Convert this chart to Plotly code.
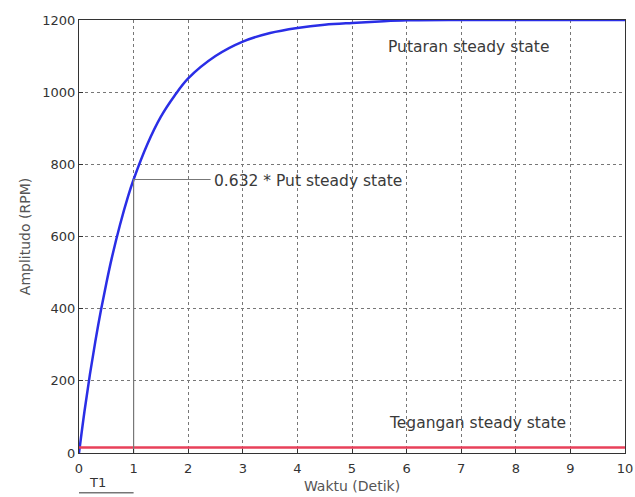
import plotly.graph_objects as go

# Data
t = [0, 0.1, 0.2, 0.3, 0.4, 0.5, 0.6, 0.75, 0.9, 1.0, 1.25, 1.5, 1.75, 2.0, 2.5, 3.0, 3.5, 4.0, 4.5, 5.0, 5.5, 6.0, 7.0, 8.0, 9.0, 10.0]
putaran = [0, 115, 218, 310, 394, 470, 540, 632, 712, 758, 855, 932, 990, 1038, 1100, 1140, 1164, 1178, 1187, 1192, 1196, 1199, 1200, 1200, 1200, 1200]
t_volt = [0, 10]
tegangan = [15, 15]
x_ticks = [0, 1, 2, 3, 4, 5, 6, 7, 8, 9, 10]
y_ticks = [0, 200, 400, 600, 800, 1000, 1200]
T1 = 1.0
y_632 = 758

FONT = "DejaVu Sans"
fig = go.Figure()
fig.add_trace(go.Scatter(x=t, y=putaran, mode="lines", line=dict(color="#2a2ee6", width=2.5, shape="spline"), showlegend=False))
fig.add_trace(go.Scatter(x=t_volt, y=tegangan, mode="lines", line=dict(color="#e8405a", width=2.5), showlegend=False))
# annotation lines
fig.add_trace(go.Scatter(x=[T1, T1, 2.41], y=[0, y_632, y_632], mode="lines", line=dict(color="#777777", width=1.2), showlegend=False))

fig.update_xaxes(range=[0, 10], tickvals=x_ticks, showgrid=True, gridcolor="#777777", griddash="dot", gridwidth=1,
                 showline=True, linecolor="#333333", linewidth=1.2, mirror=True, ticks="inside", ticklen=4,
                 tickcolor="#333333", zeroline=False, automargin=False, ticklabelstandoff=3,
                 tickfont=dict(family=FONT, size=13, color="#333333"),
                 title=dict(text="Waktu (Detik)", font=dict(family=FONT, size=14, color="#555555"), standoff=6))
fig.update_yaxes(range=[0, 1200], tickvals=y_ticks, showgrid=True, gridcolor="#777777", griddash="dot", gridwidth=1,
                 showline=True, linecolor="#333333", linewidth=1.2, mirror=True, ticks="inside", ticklen=4,
                 tickcolor="#333333", zeroline=False, automargin=False,
                 tickfont=dict(family=FONT, size=13, color="#333333"),
                 title=dict(text="Amplitudo (RPM)", font=dict(family=FONT, size=14, color="#555555"), standoff=8))

fig.add_annotation(x=2.44, y=y_632 - 5, text="0.632 * Put steady state", showarrow=False, xanchor="left",
                   font=dict(family=FONT, size=15.5, color="#3a3a3a"))
fig.add_annotation(x=7.15, y=1125, text="Putaran steady state", showarrow=False,
                   font=dict(family=FONT, size=15.5, color="#3a3a3a"))
fig.add_annotation(x=7.3, y=83, text="Tegangan steady state", showarrow=False,
                   font=dict(family=FONT, size=15.5, color="#3a3a3a"))
fig.add_annotation(x=0.33, y=0, yshift=-29, text="T1", showarrow=False,
                   font=dict(family=FONT, size=13, color="#333333"))

fig.update_layout(width=635, height=497, margin=dict(l=79, r=10, t=20, b=44),
                  plot_bgcolor="white", paper_bgcolor="white")
# underline under T1
fig.add_shape(type="line", xref="x", yref="paper", x0=0, x1=T1, y0=-0.092, y1=-0.092,
              line=dict(color="#333333", width=1))
fig.write_html("out.html")
